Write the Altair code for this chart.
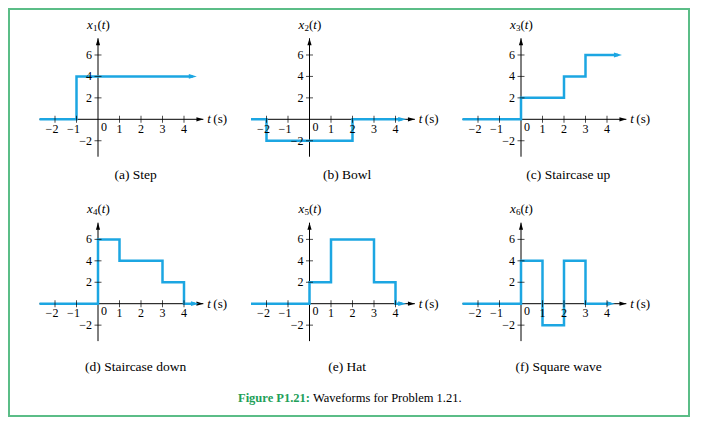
import altair as alt
import pandas as pd

# ---------------- data ----------------
panel_ids = ["a", "b", "c", "d", "e", "f"]
captions = ["(a) Step", "(b) Bowl", "(c) Staircase up",
            "(d) Staircase down", "(e) Hat", "(f) Square wave"]
y_subscripts = ["1", "2", "3", "4", "5", "6"]

sig_t = {
    "a": [-2.72, -1, -1, 4.41],
    "b": [-2.72, -2, -2, 2, 2, 4.31],
    "c": [-2.72, 0, 0, 2, 2, 3, 3, 4.51],
    "d": [-2.72, 0, 0, 1, 1, 3, 3, 4, 4, 4.51],
    "e": [-2.72, 0, 0, 1, 1, 3, 3, 4, 4, 4.31],
    "f": [-2.72, 0, 0, 1, 1, 2, 2, 3, 3, 4.18],
}
sig_v = {
    "a": [0, 0, 4, 4],
    "b": [0, 0, -2, -2, 0, 0],
    "c": [0, 0, 2, 2, 4, 4, 6, 6],
    "d": [0, 0, 6, 6, 4, 4, 2, 2, 0, 0],
    "e": [0, 0, 2, 2, 6, 6, 2, 2, 0, 0],
    "f": [0, 0, 4, 4, -2, -2, 4, 4, 0, 0],
}

x_ticks = [-2, -1, 1, 2, 3, 4]
x_tick_labels = ["\u22122", "\u22121", "1", "2", "3", "4"]
y_ticks = [-2, 2, 4, 6]
y_tick_labels = ["\u22122", "2", "4", "6"]
x_axis_span = [-2.72, 4.9]
y_axis_span = [-3.49, 7.56]
figure_label = "Figure P1.21:"
figure_text = "Waveforms for Problem 1.21."

# ---------------- layout ----------------
PXU = 21.5      # px per t unit
PXV = 10.72     # px per signal unit
COL_DU = 211.5 / PXU
ROW_DW = 184.4 / PXV
VX0, VX1, VY0, VY1 = 9, 689, 9, 416
ORIGIN_X, ORIGIN_Y = 98, 119.3
UDOM = [(VX0 - ORIGIN_X) / PXU, (VX1 - ORIGIN_X) / PXU]
WDOM = [(ORIGIN_Y - VY1) / PXV, (ORIGIN_Y - VY0) / PXV]

BLUE = "#1ca6e2"
GREEN = "#5bbd87"
CAP_GREEN = "#22a058"
FONT = "'Liberation Serif', 'Times New Roman', Times, 'DejaVu Serif', serif"

cols = [i % 3 for i in range(6)]
rows = [i // 3 for i in range(6)]


def place(ch, tf="t", vf="v", uo="u", wo="w"):
    return ch.transform_calculate(
        **{uo: f"datum.{tf} + datum.col * {COL_DU}",
           wo: f"datum.{vf} - datum.row * {ROW_DW}"})


X = alt.X("u:Q", scale=alt.Scale(domain=UDOM, nice=False, zero=False), axis=None)
Y = alt.Y("w:Q", scale=alt.Scale(domain=WDOM, nice=False, zero=False), axis=None)

sig_rows, end_rows, xt_rows, yt_rows, pan_rows = [], [], [], [], []
for i, p in enumerate(panel_ids):
    c, r = cols[i], rows[i]
    ts, vs = sig_t[p], sig_v[p]
    for k, (t, v) in enumerate(zip(ts, vs)):
        sig_rows.append(dict(panel=p, col=c, row=r, i=k, t=t, v=v))
    end_rows.append(dict(panel=p, col=c, row=r, t=ts[-1], v=vs[-1]))
    for t, lab in zip(x_ticks, x_tick_labels):
        xt_rows.append(dict(panel=p, col=c, row=r, t=t, v=0, label=lab, neg=t < 0))
    for v, lab in zip(y_ticks, y_tick_labels):
        yt_rows.append(dict(panel=p, col=c, row=r, t=0, v=v, label=lab))
    pan_rows.append(dict(panel=p, col=c, row=r, caption=captions[i], sub=y_subscripts[i],
                         t0=x_axis_span[0], t1=x_axis_span[1],
                         v0=y_axis_span[0], v1=y_axis_span[1], zero=0.0,
                         cap_t=2.2 if p == "c" else 1.75,
                         cap_v=-5.2 if r == 0 else -5.9,
                         yt_v=8.8, xa_t=x_axis_span[1] - 0.16, ya_v=y_axis_span[1] - 0.33))

sig = pd.DataFrame(sig_rows)
ends = pd.DataFrame(end_rows)
xt = pd.DataFrame(xt_rows)
yt = pd.DataFrame(yt_rows)
pan = pd.DataFrame(pan_rows)
fig = pd.DataFrame([dict(col=0, row=0, t=(310 - ORIGIN_X) / PXU, t2=(313 - ORIGIN_X) / PXU,
                         v=(ORIGIN_Y - 398) / PXV, a=figure_label, b=figure_text)])

base_pan = alt.Chart(pan)

hline = base_pan.mark_rule(color="black", strokeWidth=1).transform_calculate(
    u=f"datum.t0 + datum.col * {COL_DU}", u2=f"datum.t1 + datum.col * {COL_DU}",
    w=f"0 - datum.row * {ROW_DW}").encode(x=X, x2="u2:Q", y=Y)
vline = base_pan.mark_rule(color="black", strokeWidth=1).transform_calculate(
    u=f"datum.col * {COL_DU}", w=f"datum.v0 - datum.row * {ROW_DW}",
    w2=f"datum.v1 - datum.row * {ROW_DW}").encode(x=X, y=Y, y2="w2:Q")

xarrow = place(base_pan, tf="xa_t", vf="zero").mark_point(
    shape="M1,0L-1,-0.6L-1,0.6Z", size=49, filled=True, color="black", opacity=1, strokeWidth=0
).encode(x=X, y=Y)
yarrow = place(base_pan, tf="zero", vf="ya_v").mark_point(
    shape="M0,-1L-0.6,1L0.6,1Z", size=49, filled=True, color="black", opacity=1, strokeWidth=0
).encode(x=X, y=Y)

sig_line = place(alt.Chart(sig)).mark_line(color=BLUE, strokeWidth=2.5, strokeJoin="miter").encode(
    x=X, y=Y, detail="panel:N", order="i:Q")
sig_arrow = place(alt.Chart(ends)).mark_point(
    shape="M1,0L-1,-0.6L-1,0.6Z", size=64, filled=True, color=BLUE, opacity=1, strokeWidth=0
).encode(x=X, y=Y)

xtick = place(alt.Chart(xt)).mark_tick(orient="vertical", size=7, thickness=1, color="black").encode(x=X, y=Y)
ytick = place(alt.Chart(yt)).mark_tick(orient="horizontal", size=7, thickness=1, color="black").encode(x=X, y=Y)

txt = dict(font=FONT, color="black", baseline="middle")
xlab_pos = place(alt.Chart(xt)).transform_filter("!datum.neg").mark_text(
    fontSize=12, align="center", dy=9.5, **txt).encode(x=X, y=Y, text="label:N")
xlab_neg = place(alt.Chart(xt)).transform_filter("datum.neg").mark_text(
    fontSize=12, align="center", dy=9.5, dx=-3, **txt).encode(x=X, y=Y, text="label:N")
ylab = place(alt.Chart(yt)).mark_text(fontSize=12, align="right", dx=-6, **txt).encode(
    x=X, y=Y, text="label:N")
zero_lab = place(base_pan, tf="zero", vf="zero").mark_text(
    fontSize=12, align="center", dx=6, dy=7.5, text="0", **txt).encode(x=X, y=Y)

# y titles: x_n(t) composed of pieces
yt_base = place(base_pan, tf="zero", vf="yt_v")
yt_x = yt_base.mark_text(fontSize=13, align="left", dx=-11, fontStyle="italic", text="x", **txt).encode(x=X, y=Y)
yt_sub = yt_base.mark_text(fontSize=9, align="left", dx=-5, dy=3, **txt).encode(x=X, y=Y, text="sub:N")
yt_p1 = yt_base.mark_text(fontSize=13, align="left", dx=-0.5, text="(", **txt).encode(x=X, y=Y)
yt_t = yt_base.mark_text(fontSize=13, align="left", dx=3.8, fontStyle="italic", text="t", **txt).encode(x=X, y=Y)
yt_p2 = yt_base.mark_text(fontSize=13, align="left", dx=7.6, text=")", **txt).encode(x=X, y=Y)

t_lab = place(base_pan, tf="t1", vf="zero").mark_text(
    fontSize=13, align="left", dx=4, fontStyle="italic", text="t", **txt).encode(x=X, y=Y)
s_lab = place(base_pan, tf="t1", vf="zero").mark_text(
    fontSize=13, align="left", dx=10, text="(s)", **txt).encode(x=X, y=Y)
cap = place(base_pan, tf="cap_t", vf="cap_v").mark_text(
    fontSize=13.5, align="center", **txt).encode(x=X, y=Y, text="caption:N")

fig_a = place(alt.Chart(fig)).mark_text(
    font=FONT, fontSize=12.5, fontWeight="bold", color=CAP_GREEN, align="right", baseline="middle"
).encode(x=X, y=Y, text="a:N")
fig_b = place(alt.Chart(fig), tf="t2").mark_text(
    font=FONT, fontSize=12.5, color="black", align="left", baseline="middle"
).encode(x=X, y=Y, text="b:N")

chart = alt.layer(
    hline, vline, xarrow, yarrow, sig_line, sig_arrow, xtick, ytick,
    xlab_pos, xlab_neg, ylab, zero_lab, yt_x, yt_sub, yt_p1, yt_t, yt_p2,
    t_lab, s_lab, cap, fig_a, fig_b
).properties(
    width=VX1 - VX0, height=VY1 - VY0, padding=1, background="white",
    autosize=alt.AutoSizeParams(type="none"),
).configure_view(stroke=GREEN, strokeWidth=2)

chart.save("out.html", embed_options={"renderer": "svg", "actions": False})
